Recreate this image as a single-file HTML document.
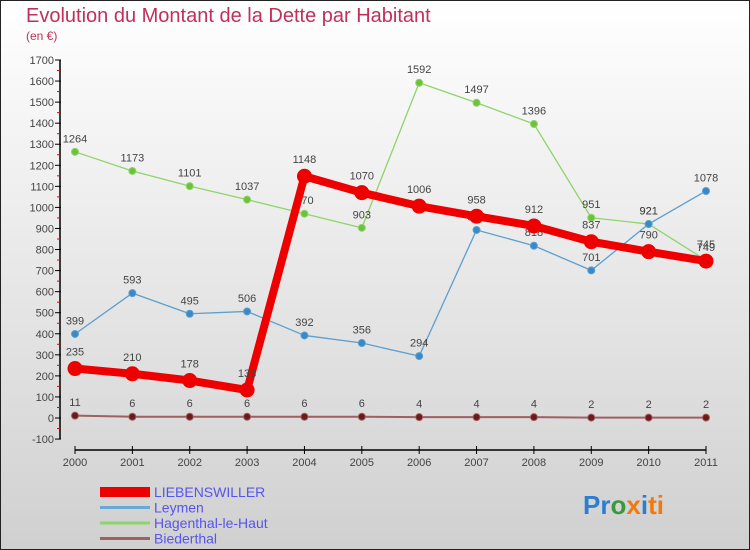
<!DOCTYPE html>
<html><head><meta charset="utf-8"><style>
body{margin:0;width:750px;height:550px;overflow:hidden;font-family:"Liberation Sans",sans-serif}
svg{display:block}
</style></head><body>
<svg id="chart" width="750" height="550" xmlns="http://www.w3.org/2000/svg">
<defs><linearGradient id="bg" x1="0" y1="0" x2="0" y2="1"><stop offset="0" stop-color="#ffffff"/><stop offset="1" stop-color="#d0d0d0"/></linearGradient></defs>
<rect x="0.5" y="0.5" width="749" height="549" fill="url(#bg)" stroke="#222"/>
<text x="26" y="22" font-size="20" fill="#c0305a">Evolution du Montant de la Dette par Habitant</text>
<text x="26" y="40" font-size="12" fill="#c0305a">(en €)</text>
<g id="axes"></g>
<g id="series"></g>
<g id="legend"></g>
<text x="583" y="514" font-size="26" font-weight="bold"><tspan fill="#2a7fd4">Pr</tspan><tspan fill="#3a9a3a">o</tspan><tspan fill="#f07a10">x</tspan><tspan fill="#2a7fd4">i</tspan><tspan fill="#f07a10">ti</tspan></text>
</svg>
<script>
const years = ["2000","2001","2002","2003","2004","2005","2006","2007","2008","2009","2010","2011"];
const yTicks = [-100,0,100,200,300,400,500,600,700,800,900,1000,1100,1200,1300,1400,1500,1600,1700];
const liebenswiller = [235,210,178,133,1148,1070,1006,958,912,837,790,745];
const leymen = [399,593,495,506,392,356,294,893,818,701,921,1078];
const hagenthal = [1264,1173,1101,1037,970,903,1592,1497,1396,951,921,749];
const biederthal = [11,6,6,6,6,6,4,4,4,2,2,2];
const seriesNames = ["LIEBENSWILLER","Leymen","Hagenthal-le-Haut","Biederthal"];

const NS="http://www.w3.org/2000/svg";
const X = i => 75 + i*(706-75)/11;
const Y = v => 418 - v*(418-60)/1700;
function mk(tag, attrs, parent){const e=document.createElementNS(NS,tag);for(const k in attrs)e.setAttribute(k,attrs[k]);parent.appendChild(e);return e;}
const axes=document.getElementById('axes'), sg=document.getElementById('series'), lg=document.getElementById('legend');

let yl=mk('line',{x1:60,y1:Y(1700),x2:60,y2:Y(-100),stroke:'#000','stroke-width':1.5},axes);


yTicks.forEach(v=>{
  mk('line',{x1:55,y1:Y(v),x2:61,y2:Y(v),stroke:'#000'},axes);
  if(v<1700) mk('line',{x1:57,y1:Y(v+50),x2:60,y2:Y(v+50),stroke:'#e00'},axes);
  const t=mk('text',{x:54,y:Y(v)+4,'font-size':11,'text-anchor':'end',fill:'#444'},axes);
  t.textContent=v;
  
  
});
let xl=mk('line',{x1:75,y1:450,x2:706,y2:450,stroke:'#000','stroke-width':1.5},axes);


years.forEach((y,i)=>{
  mk('line',{x1:X(i),y1:446,x2:X(i),y2:454,stroke:'#000'},axes);
  const t=mk('text',{x:X(i),y:466,'font-size':11,'text-anchor':'middle',fill:'#444'},axes);
  t.textContent=y;
  
  
});

function draw(data,color,w,r,name,dotColor,labelAbove){
  const g=mk('g',{},sg);
  
  
  const pl=mk('polyline',{points:data.map((v,i)=>X(i)+','+Y(v)).join(' '),fill:'none',stroke:color,'stroke-width':w,'stroke-linejoin':'round'},g);
  
  
  data.forEach((v,i)=>{
    const c=mk('circle',{cx:X(i),cy:Y(v),r:r,fill:dotColor,stroke:color,'stroke-width':1},g);
    
    
    const t=mk('text',{x:X(i),y:Y(v)-(r+6),'font-size':11,'text-anchor':'middle',fill:'#444'},g);
    t.textContent=v;
    
    
  });
}
draw(hagenthal,'#8fd46a',1.3,3.5,'hagenthal','#6cc23a');
draw(leymen,'#5a9fd0',1.3,3.5,'leymen','#3a88c8');
draw(biederthal,'#a06060',2,3.5,'biederthal','#6a1a1a');
draw(liebenswiller,'#ee0000',8,7,'liebenswiller','#ee0000');

const lc=['#ee0000','#6aa8d8','#8fd46a','#a06060'], lw=[10,3,3,3];
seriesNames.forEach((n,i)=>{
  const yy=497+i*15.5;
  const g=mk('g',{},lg);
  
  
  mk('line',{x1:100,y1:yy-5,x2:150,y2:yy-5,stroke:lc[i],'stroke-width':lw[i]},g);
  const t=mk('text',{x:154,y:yy,'font-size':14,fill:'#5555ee'},g);
  t.textContent=n;
});
</script>
</body></html>
